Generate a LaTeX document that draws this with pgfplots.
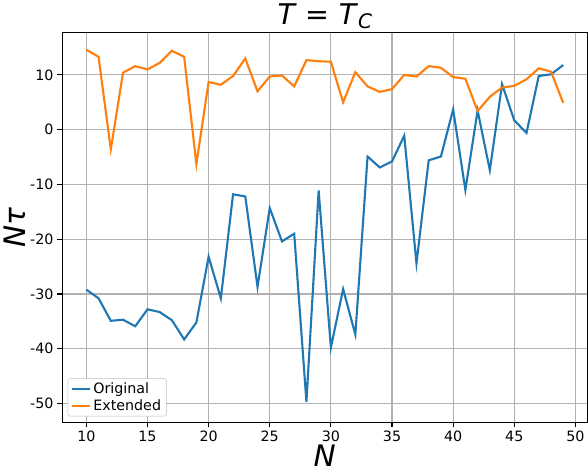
\documentclass[border=0pt]{standalone}
\usepackage{pgfplots}
\pgfplotsset{compat=1.18}
\usepackage{fontspec}
\setmainfont{DejaVu Sans}
\definecolor{tabblue}{HTML}{1F77B4}
\definecolor{taborange}{HTML}{FF7F0E}
\begin{document}
\begin{tikzpicture}
\begin{axis}[scale only axis, width=495bp, height=368bp,
 xmin=8.05, xmax=50.95, ymin=-53.4, ymax=17.8,
 xtick={10,15,...,50}, ytick={-50,-40,...,10},
 grid=major, grid style={gray!60, line width=1pt},
 axis line style={line width=1pt},
 tick style={black, line width=1pt}, major tick length=5bp, tick align=outside, xtick pos=bottom, ytick pos=left,
 /pgf/number format/assume math mode=true,
 ticklabel style={font=\fontsize{13.5}{15}\selectfont},
 xlabel={\fontsize{28}{30}\selectfont\textit{N}},
 xlabel style={yshift=4bp},
 ylabel={\fontsize{28}{30}\selectfont\textit{Nτ}},
 ylabel style={yshift=-2bp},
 title={\fontsize{27}{30}\selectfont\textit{T} = \textit{T}\raisebox{-0.25ex}{\fontsize{19}{20}\selectfont\textit{C}}},
 title style={yshift=-6bp},
 legend pos=south west, legend cell align=left,
 legend style={font=\fontsize{13.5}{16}\selectfont, draw=gray!50, rounded corners=2pt, at={(0.01,0.015)}, anchor=south west},
 legend image post style={line width=2pt},
]
\addplot[tabblue, line width=2pt] coordinates {
(10,-29.2)(11,-30.8)(12,-34.9)(13,-34.7)(14,-35.9)(15,-32.8)(16,-33.3)(17,-34.8)(18,-38.3)(19,-35.2)
(20,-23.2)(21,-30.8)(22,-11.8)(23,-12.2)(24,-28.7)(25,-14.3)(26,-20.4)(27,-19.0)(28,-49.7)(29,-11.1)
(30,-39.8)(31,-29.1)(32,-37.4)(33,-4.9)(34,-6.9)(35,-5.8)(36,-1.1)(37,-24.4)(38,-5.6)(39,-4.9)
(40,3.7)(41,-11.0)(42,3.5)(43,-7.4)(44,8.3)(45,1.7)(46,-0.6)(47,9.8)(48,10.1)(49,11.8)};
\addlegendentry{Original}
\addplot[taborange, line width=2pt] coordinates {
(10,14.6)(11,13.3)(12,-3.6)(13,10.4)(14,11.6)(15,11.0)(16,12.2)(17,14.4)(18,13.3)(19,-6.3)
(20,8.7)(21,8.2)(22,9.8)(23,13.0)(24,7.0)(25,9.7)(26,9.9)(27,7.9)(28,12.7)(29,12.5)
(30,12.4)(31,5.0)(32,10.5)(33,7.9)(34,6.9)(35,7.4)(36,10.0)(37,9.7)(38,11.6)(39,11.3)
(40,9.6)(41,9.3)(42,3.4)(43,6.0)(44,7.7)(45,8.0)(46,9.2)(47,11.2)(48,10.6)(49,4.9)};
\addlegendentry{Extended}
\end{axis}
\end{tikzpicture}
\end{document}
